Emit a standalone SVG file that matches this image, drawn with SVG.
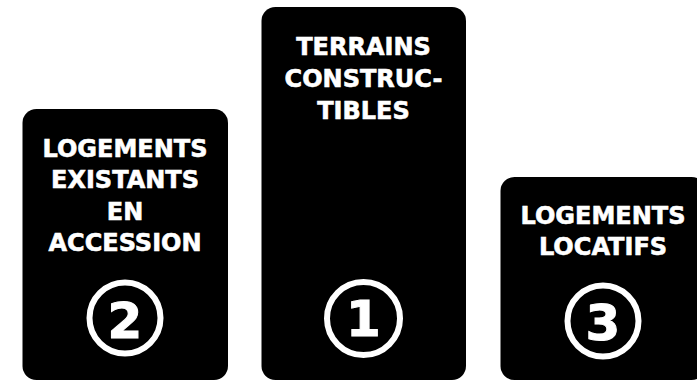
<svg xmlns="http://www.w3.org/2000/svg" width="697" height="382" viewBox="0 0 697 382">
<style>
.box{fill:#000}
.lbl{font-family:"DejaVu Sans","Verdana",sans-serif;font-weight:bold;font-size:24px;fill:#fff;stroke:#fff;stroke-width:0.6;text-anchor:middle}
.ring{fill:none;stroke:#fff;stroke-width:6}
.num{font-family:"DejaVu Sans","Verdana",sans-serif;font-weight:bold;font-size:50px;fill:#fff;stroke:#fff;stroke-width:1;text-anchor:middle}
</style>
<rect width="697" height="382" fill="#fff"/>
<g id="node-1">
<rect class="box" x="261.5" y="7" width="204.5" height="373" rx="14"/>
<text class="lbl" x="363.5" y="55">TERRAINS</text>
<text class="lbl" x="363.5" y="87">CONSTRUC-</text>
<text class="lbl" x="363.5" y="119">TIBLES</text>
<circle class="ring" cx="363.5" cy="318.5" r="36.5"/>
<text class="num" x="363.5" y="336">1</text>
</g>
<g id="node-2">
<rect class="box" x="22.5" y="109" width="205.5" height="271" rx="14"/>
<text class="lbl" x="125" y="156.5">LOGEMENTS</text>
<text class="lbl" x="125" y="188">EXISTANTS</text>
<text class="lbl" x="125" y="219.5">EN</text>
<text class="lbl" x="125" y="251">ACCESSION</text>
<circle class="ring" cx="125" cy="318" r="35.5"/>
<text class="num" x="125" y="338">2</text>
</g>
<g id="node-3">
<rect class="box" x="500.5" y="177" width="205" height="203" rx="14"/>
<text class="lbl" x="603" y="223.5">LOGEMENTS</text>
<text class="lbl" x="603" y="255">LOCATIFS</text>
<circle class="ring" cx="603" cy="321" r="35.5"/>
<text class="num" x="603" y="340">3</text>
</g>
<g id="connectors"></g>
</svg>
